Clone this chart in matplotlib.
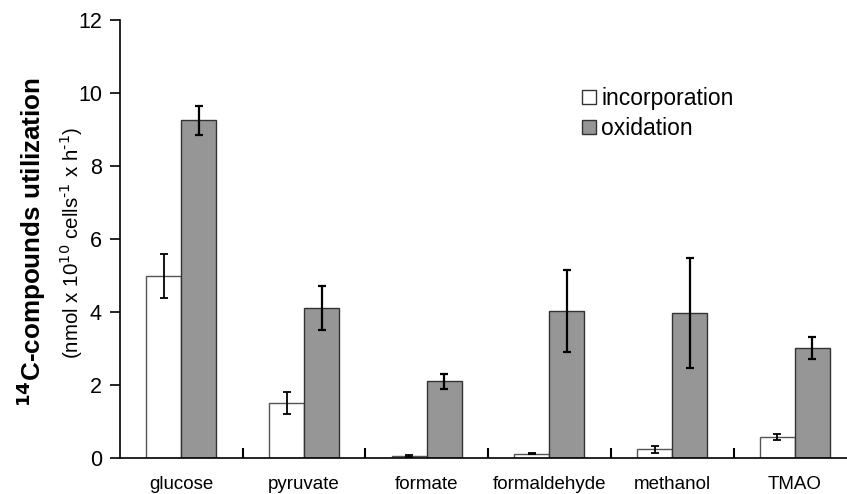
import numpy as np
import matplotlib
matplotlib.use("Agg")
import matplotlib.pyplot as plt
from matplotlib.patches import Patch

plt.rcParams['font.family'] = ['Liberation Sans', 'DejaVu Sans']

compounds = ['glucose', 'pyruvate', 'formate', 'formaldehyde', 'methanol', 'TMAO']
incorporation = [4.98, 1.50, 0.05, 0.12, 0.24, 0.58]
incorporation_err = [0.61, 0.30, 0.02, 0.02, 0.10, 0.08]
oxidation = [9.25, 4.10, 2.10, 4.03, 3.97, 3.02]
oxidation_err = [0.40, 0.60, 0.20, 1.13, 1.50, 0.30]

fig = plt.figure(figsize=(8.47, 4.94), dpi=100)
ax = fig.add_axes([120/847, 36/494, 727/847, 438/494])

x = np.arange(len(compounds))
w = 0.285
ax.bar(x - w/2, incorporation, w, color='white', edgecolor='#555555', lw=1.0,
       yerr=incorporation_err, error_kw=dict(ecolor='black', elinewidth=1.3, capsize=3, capthick=1.3),
       label='incorporation')
ax.bar(x + w/2, oxidation, w, color='#969696', edgecolor='#333333', lw=1.0,
       yerr=oxidation_err, error_kw=dict(ecolor='black', elinewidth=1.6, capsize=3, capthick=1.6),
       label='oxidation')

ax.set_xlim(-0.5, 727/122.7 - 0.5)
ax.set_ylim(0, 12)
ax.set_yticks(range(0, 13, 2))
ax.tick_params(axis='y', labelsize=15.5, direction='out', length=7, width=1.2, pad=6)
ax.set_xticks(x)
ax.set_xticklabels(compounds, fontsize=13.5)
ax.tick_params(axis='x', length=0, pad=13)
ax.set_xticks(x[:-1] + 0.5, minor=True)
ax.tick_params(axis='x', which='minor', direction='in', length=7, width=1.5)
for s in ['top', 'right']:
    ax.spines[s].set_visible(False)
for s in ['left', 'bottom']:
    ax.spines[s].set_linewidth(1.2)

handles = [Patch(facecolor='white', edgecolor='#333333', label='incorporation'),
           Patch(facecolor='#969696', edgecolor='#333333', label='oxidation')]
ax.legend(handles=handles, loc='upper left', bbox_to_anchor=(462/727, 1 - 67/438), frameon=False,
          fontsize=16.5, handlelength=0.6, handleheight=0.6, handletextpad=0.25, labelspacing=0.3,
          borderpad=0, borderaxespad=0)

fig.text(31/847, 1 - 242/494, r'$\mathbf{^{14}}$C-compounds utilization', rotation=90,
         ha='center', va='center', fontsize=18.7, fontweight='bold')
fig.text(71/847, 1 - 243/494, r'(nmol x 10$^{10}$ cells$^{\text{-}1}$ x h$^{\text{-}1}$)', rotation=90,
         ha='center', va='center', fontsize=14.8)

fig.savefig('out.png', dpi=100)
